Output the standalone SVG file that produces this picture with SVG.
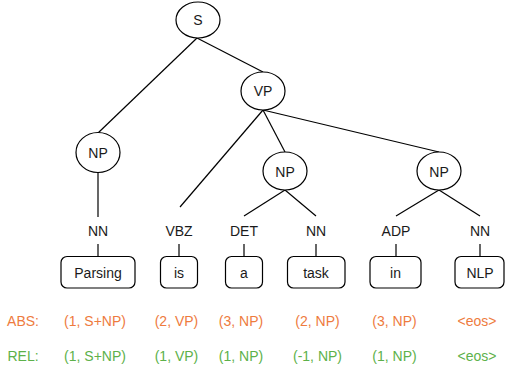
<svg xmlns="http://www.w3.org/2000/svg" width="505" height="372" viewBox="0 0 505 372">
<style>
text{font-family:"Liberation Sans",Arial,sans-serif;font-size:14px;text-anchor:middle}
.n{fill:#fff;stroke:#000;stroke-width:1.2}
.e{stroke:#000;stroke-width:1.2;fill:none}
.t{fill:#1a1a1a}
.abs{fill:#EE7B3E}
.rel{fill:#5DB14A}
</style>
<g id="connectors">
<line class="e" x1="197" y1="38" x2="98" y2="133"/>
<line class="e" x1="197" y1="38" x2="263" y2="72"/>
<line class="e" x1="263" y1="110" x2="180" y2="207"/>
<line class="e" x1="263" y1="110" x2="285" y2="152"/>
<line class="e" x1="263" y1="110" x2="439" y2="152"/>
<line class="e" x1="98" y1="172" x2="98" y2="217"/>
<line class="e" x1="285" y1="190" x2="244" y2="216"/>
<line class="e" x1="285" y1="190" x2="316" y2="216"/>
<line class="e" x1="439" y1="190" x2="396" y2="216"/>
<line class="e" x1="439" y1="190" x2="480" y2="216"/>
<line class="e" x1="98" y1="244" x2="98" y2="256"/>
<line class="e" x1="179" y1="244" x2="179" y2="256"/>
<line class="e" x1="244" y1="244" x2="244" y2="256"/>
<line class="e" x1="316" y1="244" x2="316" y2="256"/>
<line class="e" x1="396" y1="244" x2="396" y2="256"/>
<line class="e" x1="480" y1="244" x2="480" y2="256"/>
</g>
<g id="S"><ellipse class="n" cx="198" cy="20" rx="22" ry="18"/><text class="t" x="198" y="24.5">S</text></g>
<g id="VP"><ellipse class="n" cx="263" cy="91" rx="22" ry="19"/><text class="t" x="263" y="96">VP</text></g>
<g id="NP1"><ellipse class="n" cx="98" cy="152.5" rx="22" ry="20"/><text class="t" x="98" y="157.5">NP</text></g>
<g id="NP2"><ellipse class="n" cx="285" cy="171" rx="22" ry="19"/><text class="t" x="285" y="176.5">NP</text></g>
<g id="NP3"><ellipse class="n" cx="439" cy="171" rx="22" ry="19"/><text class="t" x="439" y="176.5">NP</text></g>
<g id="tag-NN1"><text class="t" x="98" y="236">NN</text></g>
<g id="tag-VBZ"><text class="t" x="179" y="236">VBZ</text></g>
<g id="tag-DET"><text class="t" x="244" y="236">DET</text></g>
<g id="tag-NN2"><text class="t" x="316" y="236">NN</text></g>
<g id="tag-ADP"><text class="t" x="396" y="236">ADP</text></g>
<g id="tag-NN3"><text class="t" x="480" y="236">NN</text></g>
<g id="w-Parsing"><rect class="n" x="61" y="256.5" width="74" height="31.5" rx="6"/><text class="t" x="98" y="277.5">Parsing</text></g>
<g id="w-is"><rect class="n" x="160.5" y="256.5" width="37" height="31.5" rx="6"/><text class="t" x="179" y="277.5">is</text></g>
<g id="w-a"><rect class="n" x="225.5" y="256.5" width="37" height="31.5" rx="6"/><text class="t" x="244" y="277.5">a</text></g>
<g id="w-task"><rect class="n" x="287.5" y="256.5" width="57.5" height="31.5" rx="6"/><text class="t" x="316" y="277.5">task</text></g>
<g id="w-in"><rect class="n" x="370" y="256.5" width="51" height="31.5" rx="6"/><text class="t" x="395.5" y="277.5">in</text></g>
<g id="w-NLP"><rect class="n" x="455" y="256.5" width="49" height="31.5" rx="6"/><text class="t" x="480" y="277.5">NLP</text></g>
<g id="abs-row">
<text class="abs" x="23" y="325.5">ABS:</text>
<text class="abs" x="95" y="325.5">(1, S+NP)</text>
<text class="abs" x="176.5" y="325.5">(2, VP)</text>
<text class="abs" x="241" y="325.5">(3, NP)</text>
<text class="abs" x="317.5" y="325.5">(2, NP)</text>
<text class="abs" x="394.5" y="325.5">(3, NP)</text>
<text class="abs" x="477" y="325.5">&lt;eos&gt;</text>
</g>
<g id="rel-row">
<text class="rel" x="23" y="360.5">REL:</text>
<text class="rel" x="95" y="360.5">(1, S+NP)</text>
<text class="rel" x="176.5" y="360.5">(1, VP)</text>
<text class="rel" x="241" y="360.5">(1, NP)</text>
<text class="rel" x="317.5" y="360.5">(-1, NP)</text>
<text class="rel" x="394.5" y="360.5">(1, NP)</text>
<text class="rel" x="477" y="360.5">&lt;eos&gt;</text>
</g>
</svg>
